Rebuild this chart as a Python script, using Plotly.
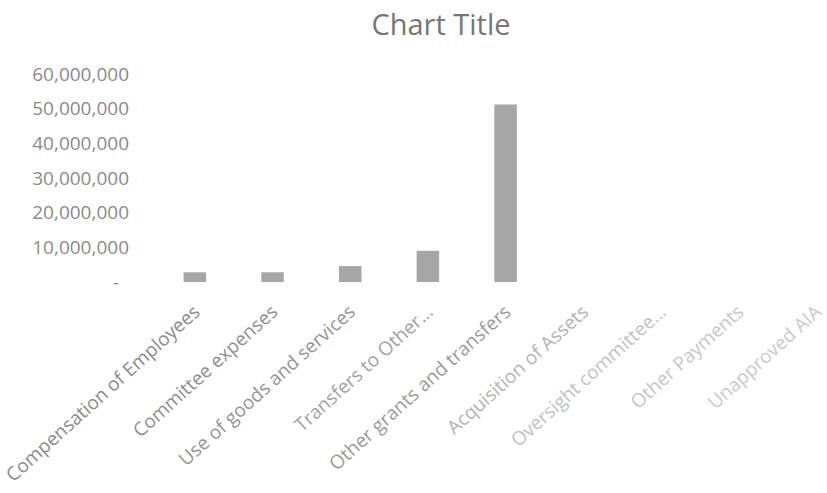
import plotly.graph_objects as go

categories = [
    "Compensation of Employees",
    "Committee expenses",
    "Use of goods and services",
    "Transfers to Other...",
    "Other grants and transfers",
    "Acquisition of Assets",
    "Oversight committee...",
    "Other Payments",
    "Unapproved AIA",
]
values = [2800000, 2800000, 4600000, 9000000, 51200000, 0, 0, 0, 0]
y_tick_values = [0, 10000000, 20000000, 30000000, 40000000, 50000000, 60000000]
y_tick_labels = ["-\u00a0\u00a0", "10,000,000", "20,000,000", "30,000,000", "40,000,000", "50,000,000", "60,000,000"]

# label shading (photo fades towards the right)
label_colors = ["#8a8a8a", "#8f8f8f", "#949494", "#a2a2a2", "#9a9a9a",
                "#b3b3b3", "#c2c2c2", "#c6c6c6", "#cacaca"]
x_tick_text = [f"<span style='color:{c}'>{t}</span>" for t, c in zip(categories, label_colors)]

fig = go.Figure(
    go.Bar(x=categories, y=values, marker=dict(color="#a6a6a6", line=dict(width=0)), width=0.29)
)

fig.update_layout(
    width=827,
    height=493,
    paper_bgcolor="white",
    plot_bgcolor="white",
    margin=dict(l=155, r=0, t=74, b=211),
    title=dict(
        text="Chart Title",
        x=441 / 827,
        xanchor="center",
        y=1 - 25 / 493,
        yanchor="middle",
        font=dict(family="Open Sans", size=29, color="#767676"),
    ),
    showlegend=False,
    font=dict(family="Open Sans", color="#8a8a8a"),
)
fig.update_xaxes(
    range=[-0.5, 8.06],
    tickvals=categories,
    ticktext=x_tick_text,
    tickangle=-42,
    tickfont=dict(family="Open Sans", size=19, color="#959595"),
    showline=False,
    showgrid=False,
    ticks="",
    ticklabelstandoff=14,
)
fig.update_yaxes(
    range=[0, 60000000],
    tickvals=y_tick_values,
    ticktext=y_tick_labels,
    tickfont=dict(family="Open Sans", size=19, color="#8a8a8a"),
    showgrid=False,
    showline=False,
    zeroline=False,
    ticks="",
    ticklabelstandoff=26,
)

fig.write_html("out.html")
